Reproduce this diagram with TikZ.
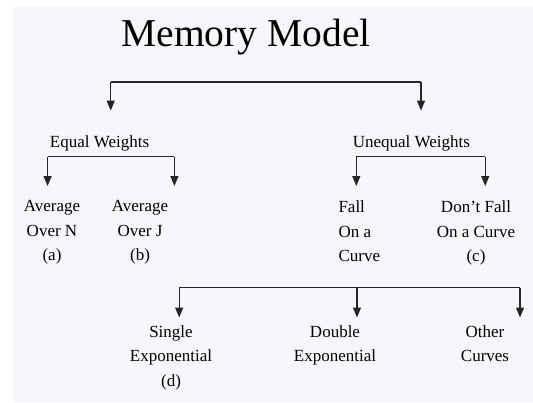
\documentclass[tikz,border=0pt]{standalone}
\usepackage{fontspec}
\setmainfont{Liberation Serif}
\usetikzlibrary{arrows.meta}
\definecolor{paper}{RGB}{247,246,250}
\tikzset{
      headbox/.style={
        font=\fontsize{17}{24.5}\selectfont,
        anchor=base,
        inner sep=0pt
      },
      leafbox/.style={
        font=\fontsize{17}{24.5}\selectfont,
        align=center,
        anchor=north,
        inner sep=0pt
      },
      branch/.style={
        line width=1.2pt,
        color=black!85
      },
      drop/.style={
        branch,
        -{Triangle[length=10pt,width=8pt]}
      }
    }

\begin{document}
\begin{tikzpicture}[x=1pt,y=-1pt]
    \useasboundingbox (0,0) rectangle (533,402);
    \fill[paper] (13,6) rectangle (533,402);
    \node[headbox, font=\fontsize{39.5}{40}\selectfont] (title) at (246,46.7) {Memory Model};
    \node[headbox] (equal) at (99.5,147) {Equal Weights};
    \node[headbox] (unequal) at (411.4,147) {Unequal Weights};
    \node[leafbox] (overn) at (52,200.5) {Average\\Over N\\(a)};
    \node[leafbox] (overj) at (140,200.5) {Average\\Over J\\(b)};
    \node[leafbox, anchor=north west, align=left] (fall) at (338.3,200.5) {Fall\\On a\\Curve};
    \node[leafbox] (nofall) at (476,200.5) {Don't Fall\\On a Curve\\(c)};
    \node[leafbox] (single) at (171,325) {Single\\Exponential\\(d)};
    \node[leafbox] (double) at (335,325) {Double\\Exponential};
    \node[leafbox] (other) at (485,325) {Other\\Curves};
    \coordinate (b0l) at (110.7,82);
    \coordinate (b0r) at (421,82);
    \coordinate (b1l) at (47.6,156.5);
    \coordinate (b1r) at (174.4,156.5);
    \coordinate (b2l) at (356.3,156.5);
    \coordinate (b2r) at (485.2,156.5);
    \coordinate (b3l) at (179.2,287.5);
    \coordinate (b3m) at (357,287.5);
    \coordinate (b3r) at (520,287.5);
    \draw[branch] (b0l) -- (b0r);
    \draw[drop, shorten >=24.4pt] (b0l) -- (b0l |- equal.north);
    \draw[drop, shorten >=24.4pt] (b0r) -- (b0r |- unequal.north);
    \draw[branch] (b1l) -- (b1r);
    \draw[drop, shorten >=14.5pt] (b1l) -- (b1l |- overn.north);
    \draw[drop, shorten >=14.5pt] (b1r) -- (b1r |- overj.north);
    \draw[branch] (b2l) -- (b2r);
    \draw[drop, shorten >=14.5pt] (b2l) -- (b2l |- fall.north);
    \draw[drop, shorten >=14.5pt] (b2r) -- (b2r |- nofall.north);
    \draw[branch] (b3l) -- (b3r);
    \draw[drop, shorten >=7.5pt] (b3l) -- (b3l |- single.north);
    \draw[drop, shorten >=7.5pt] (b3m) -- (b3m |- double.north);
    \draw[drop, shorten >=7.5pt] (b3r) -- (b3r |- other.north);
\end{tikzpicture}
\end{document}
